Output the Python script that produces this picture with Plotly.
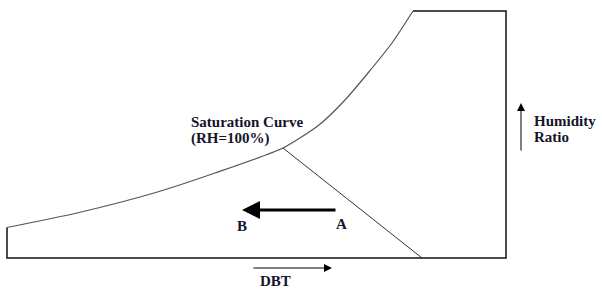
import plotly.graph_objects as go

# Schematic psychrometric chart (arbitrary units: DBT along x, humidity ratio along y)
sat_dbt = [7, 77, 154, 215, 283, 319, 345, 368, 392, 413]
sat_w = [30.5, 45, 65, 85, 110, 133, 158, 185, 215, 247]

border_dbt = [413, 506, 506, 7, 7]
border_w = [247, 247, 0, 0, 30.5]

wb_dbt = [283, 422]
wb_w = [110, 0]

point_a = (337, 48)
point_b = (242, 48)

FONT = "Liberation Serif"
TXT = "#14142a"

fig = go.Figure()
fig.add_trace(go.Scatter(x=sat_dbt, y=sat_w, mode="lines",
                         line=dict(color="#555555", width=1.2, shape="spline", smoothing=0.6),
                         hoverinfo="skip"))
fig.add_trace(go.Scatter(x=border_dbt, y=border_w, mode="lines",
                         line=dict(color="#111111", width=1.5), hoverinfo="skip"))
fig.add_trace(go.Scatter(x=wb_dbt, y=wb_w, mode="lines",
                         line=dict(color="#333333", width=1), hoverinfo="skip"))

anns = []
# A -> B arrow
anns.append(dict(x=point_b[0], y=point_b[1], ax=point_a[0], ay=point_a[1],
                 xref="x", yref="y", axref="x", ayref="y", text="",
                 showarrow=True, arrowhead=2, arrowsize=1.2, arrowwidth=3, arrowcolor="#000"))
# DBT arrow
anns.append(dict(x=332, y=-10, ax=252, ay=-10, xref="x", yref="y", axref="x", ayref="y",
                 text="", showarrow=True, arrowhead=2, arrowsize=1.6, arrowwidth=1, arrowcolor="#000"))
# Humidity ratio arrow
anns.append(dict(x=521, y=155, ax=521, ay=106, xref="x", yref="y", axref="x", ayref="y",
                 text="", showarrow=True, arrowhead=2, arrowsize=1.6, arrowwidth=1, arrowcolor="#000"))

labels = [
    ("<b>Saturation Curve</b>", 189, 136, "left", 15),
    ("<b>(RH=100%)</b>", 189, 120, "left", 15),
    ("<b>A</b>", 341, 34, "center", 15),
    ("<b>B</b>", 242, 32, "center", 15),
    ("<b>DBT</b>", 275, -23, "center", 15),
    ("<b>Humidity</b>", 532, 137.5, "left", 15),
    ("<b>Ratio</b>", 532, 121.5, "left", 15),
]
for t, x, y, xa, fs in labels:
    anns.append(dict(x=x, y=y, xref="x", yref="y", text=t, showarrow=False,
                     xanchor=xa, yanchor="middle",
                     font=dict(family=FONT, size=fs, color=TXT)))

fig.update_layout(
    width=602, height=291,
    margin=dict(l=0, r=0, t=0, b=0),
    paper_bgcolor="white", plot_bgcolor="white",
    showlegend=False,
    xaxis=dict(range=[0, 602], visible=False, fixedrange=True),
    yaxis=dict(range=[-33, 258], visible=False, fixedrange=True),
    annotations=anns,
)
fig.write_html("out.html", config={"displayModeBar": False},
               post_script="document.body.style.margin='0';")
